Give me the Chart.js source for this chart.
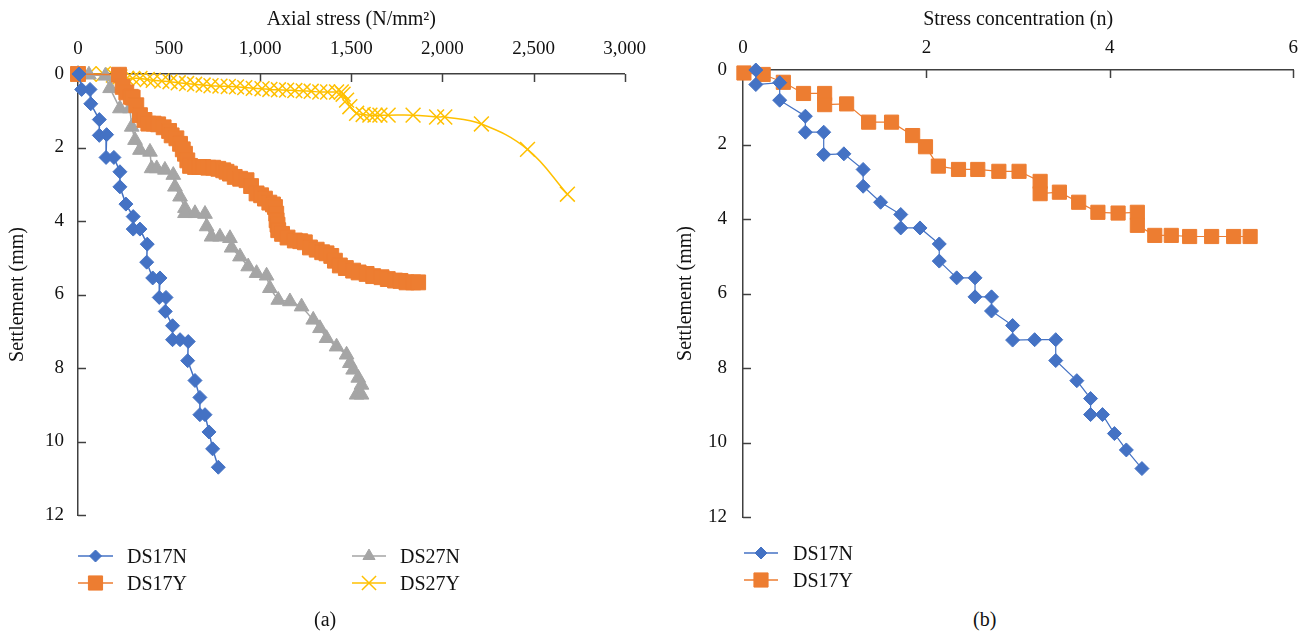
<!DOCTYPE html>
<html>
<head>
<meta charset="utf-8">
<script src="https://cdn.jsdelivr.net/npm/chart.js@4/dist/chart.umd.min.js"></script>
<style>
  html, body { margin: 0; padding: 0; background: #fff; }
  body { width: 1309px; height: 638px; position: relative; overflow: hidden; font-family: 'Liberation Serif', serif; }
  .wrap { position: absolute; top: 0; }
  .cap { position: absolute; top: 608px; font-size: 20px; color: #111; font-family: 'Liberation Serif', serif; }
  .lg { position: absolute; font-size: 20px; line-height: 20px; height: 20px; color: #111; font-family: 'Liberation Serif', serif; white-space: nowrap; }
</style>
</head>
<body>
<div class="wrap" style="left:0;width:660px;height:600px;"><canvas id="c1" width="660" height="600"></canvas></div>
<div class="wrap" style="left:654px;width:655px;height:600px;"><canvas id="c2" width="655" height="600"></canvas></div>
<div id="legendText"></div>
<div class="cap" style="left:314px;">(a)</div>
<div class="cap" style="left:973px;">(b)</div>
<script>
// ---------- Data (a): axial stress vs settlement ----------
const ds17N_stress = [5, 20, 66, 70, 117, 117, 157, 154, 197, 230, 230, 263, 303, 303, 340, 380, 377, 410, 450, 446, 483, 479, 519, 519, 560, 605, 602, 642, 669, 669, 697, 719, 739, 770];
const ds17N_settle = [0, 0.42, 0.42, 0.81, 1.24, 1.67, 1.65, 2.27, 2.27, 2.66, 3.07, 3.54, 3.88, 4.22, 4.22, 4.63, 5.12, 5.55, 5.55, 6.08, 6.08, 6.46, 6.85, 7.23, 7.23, 7.28, 7.80, 8.34, 8.80, 9.27, 9.27, 9.74, 10.20, 10.70];

const ds17Y_stress = [0, 225, 245, 265, 290, 300, 320, 340, 365, 386, 415, 440, 470, 500, 514, 540, 560, 575, 587, 600, 615, 642, 665, 687, 715, 742, 770, 797, 815, 834, 860, 890, 925, 950, 980, 1005, 1026, 1050, 1070, 1081, 1088, 1090, 1095, 1099, 1120, 1150, 1190, 1220, 1245, 1273, 1310, 1340, 1364, 1390, 1410, 1437, 1470, 1510, 1540, 1584, 1620, 1666, 1700, 1740, 1770, 1803, 1840, 1867];
const ds17Y_settle = [0, 0.02, 0.35, 0.5, 0.62, 0.64, 0.85, 1.12, 1.25, 1.35, 1.35, 1.37, 1.45, 1.55, 1.67, 1.75, 1.9, 2.05, 2.17, 2.35, 2.5, 2.53, 2.53, 2.53, 2.55, 2.55, 2.58, 2.62, 2.66, 2.71, 2.8, 2.85, 2.89, 3.05, 3.25, 3.3, 3.39, 3.5, 3.55, 3.62, 3.8, 3.98, 4.1, 4.25, 4.35, 4.45, 4.53, 4.55, 4.58, 4.72, 4.78, 4.85, 4.88, 4.95, 5.08, 5.21, 5.28, 5.35, 5.4, 5.44, 5.5, 5.53, 5.58, 5.62, 5.63, 5.67, 5.67, 5.67];

const ds27N_stress = [0, 60, 150, 176, 230, 285, 295, 313, 340, 395, 404, 432, 477, 523, 532, 560, 587, 587, 642, 697, 706, 733, 779, 834, 843, 889, 934, 980, 1035, 1053, 1099, 1163, 1227, 1291, 1328, 1364, 1419, 1474, 1492, 1510, 1538, 1556, 1529, 1556];
const ds27N_settle = [0, 0.02, 0.05, 0.39, 0.94, 0.94, 1.44, 1.80, 2.07, 2.12, 2.57, 2.57, 2.61, 2.75, 3.07, 3.34, 3.65, 3.79, 3.79, 3.81, 4.15, 4.43, 4.43, 4.47, 4.73, 4.97, 5.24, 5.42, 5.49, 5.83, 6.15, 6.19, 6.33, 6.69, 6.92, 7.19, 7.42, 7.64, 7.87, 8.05, 8.27, 8.46, 8.73, 8.73];

const ds27Y_stress = [0, 60, 139, 194, 230, 267, 300, 340, 380, 413, 460, 505, 550, 596, 640, 687, 730, 779, 825, 870, 915, 962, 1010, 1053, 1100, 1145, 1190, 1236, 1280, 1327, 1370, 1419, 1445, 1455, 1474, 1492, 1529, 1565, 1602, 1630, 1657, 1702, 1839, 1968, 2013, 2214, 2467, 2686];
const ds27Y_settle = [0, 0, 0, 0.03, 0.08, 0.12, 0.12, 0.12, 0.15, 0.17, 0.19, 0.21, 0.24, 0.26, 0.28, 0.30, 0.32, 0.33, 0.34, 0.35, 0.37, 0.39, 0.40, 0.42, 0.43, 0.44, 0.45, 0.46, 0.47, 0.49, 0.49, 0.49, 0.49, 0.55, 0.71, 0.89, 1.07, 1.1, 1.12, 1.12, 1.12, 1.12, 1.12, 1.17, 1.17, 1.36, 2.05, 3.27];

// ---------- Data (b): stress concentration vs settlement ----------
const n17N = [0.14, 0.14, 0.40, 0.40, 0.68, 0.68, 0.88, 0.88, 1.10, 1.31, 1.31, 1.50, 1.72, 1.72, 1.93, 2.14, 2.14, 2.33, 2.53, 2.53, 2.71, 2.71, 2.94, 2.94, 3.18, 3.41, 3.41, 3.64, 3.79, 3.79, 3.92, 4.05, 4.18, 4.35];
const n17N_settle = [0, 0.39, 0.34, 0.81, 1.24, 1.67, 1.67, 2.27, 2.25, 2.67, 3.12, 3.55, 3.88, 4.24, 4.24, 4.67, 5.13, 5.58, 5.58, 6.09, 6.09, 6.47, 6.86, 7.25, 7.24, 7.24, 7.80, 8.34, 8.82, 9.25, 9.25, 9.76, 10.2, 10.7];
const n17Y = [0.01, 0.22, 0.44, 0.66, 0.89, 0.89, 1.13, 1.37, 1.62, 1.85, 1.99, 2.13, 2.35, 2.56, 2.79, 3.01, 3.24, 3.24, 3.45, 3.66, 3.87, 4.09, 4.30, 4.30, 4.49, 4.67, 4.87, 5.11, 5.35, 5.53];
const n17Y_settle = [0.08, 0.12, 0.33, 0.63, 0.63, 0.93, 0.91, 1.40, 1.40, 1.76, 2.06, 2.58, 2.67, 2.67, 2.72, 2.72, 2.99, 3.32, 3.28, 3.55, 3.82, 3.84, 3.82, 4.17, 4.44, 4.44, 4.47, 4.47, 4.47, 4.47];

// ---------- Ticks / labels ----------
const stressTicks = [0, 500, 1000, 1500, 2000, 2500, 3000];
const nTicks = [0, 2, 4, 6];
const settleTicks = [0, 2, 4, 6, 8, 10, 12];

const BLUE = '#4472C4', ORANGE = '#ED7D31', GRAY = '#A5A5A5', YELLOW = '#FFC000';
const AXIS = '#404040';
const FONT = "'Liberation Serif', 'Times New Roman', serif";

const pts = (xs, ys) => xs.map((v, i) => ({x: v, y: ys[i]}));

function ds(label, xs, ys, color, style, r, opts) {
  return Object.assign({
    label, data: pts(xs, ys), showLine: true,
    borderColor: color, backgroundColor: color, borderWidth: 1.5,
    pointStyle: style, pointRadius: r, pointHoverRadius: r,
    pointBackgroundColor: color, pointBorderColor: color, pointBorderWidth: 1,
    tension: 0, clip: false
  }, opts || {});
}

const inwardTicks = {
  id: 'inwardTicks',
  beforeDatasetsDraw(chart) {
    const {ctx, chartArea: {left, top}} = chart;
    const x = chart.scales.x, y = chart.scales.y;
    ctx.save();
    ctx.strokeStyle = AXIS; ctx.lineWidth = 1.5;
    x.ticks.forEach(t => {
      const px = Math.round(x.getPixelForValue(t.value)) + 0.5;
      ctx.beginPath(); ctx.moveTo(px, top); ctx.lineTo(px, top + 8); ctx.stroke();
    });
    y.ticks.forEach(t => {
      const py = Math.round(y.getPixelForValue(t.value)) + 0.5;
      ctx.beginPath(); ctx.moveTo(left, py); ctx.lineTo(left + 8, py); ctx.stroke();
    });
    ctx.restore();
  }
};

// legend symbols drawn on the canvas; legend text as HTML
const customLegend = {
  id: 'customLegend',
  afterDraw(chart, args, o) {
    const ctx = chart.ctx;
    ctx.save();
    o.items.forEach(it => {
      const d = chart.data.datasets[it.index];
      ctx.strokeStyle = d.borderColor; ctx.lineWidth = 1.5;
      ctx.beginPath(); ctx.moveTo(it.x0, it.y); ctx.lineTo(it.x1, it.y); ctx.stroke();
      ctx.fillStyle = d.pointBackgroundColor; ctx.strokeStyle = d.pointBorderColor;
      ctx.lineWidth = d.pointStyle === 'crossRot' ? 1.5 : 1;
      Chart.helpers.drawPoint(ctx, {pointStyle: d.pointStyle, radius: it.r, rotation: 0, borderWidth: ctx.lineWidth}, (it.x0 + it.x1) / 2, it.y);
    });
    ctx.restore();
  }
};

function addLegendText(chart, offsetX, items) {
  const host = document.getElementById('legendText');
  items.forEach(it => {
    const el = document.createElement('div');
    el.className = 'lg';
    el.textContent = chart.data.datasets[it.index].label;
    el.style.left = (offsetX + it.tx) + 'px';
    el.style.top = (it.y - 10) + 'px';
    host.appendChild(el);
  });
}

function makeOptions(cfg) {
  return {
    responsive: false, animation: false,
    layout: {padding: {left: 0, top: 0, right: cfg.padRight, bottom: cfg.padBottom}},
    plugins: {legend: {display: false}, tooltip: {enabled: false}, customLegend: {items: cfg.legend}},
    scales: {
      x: {
        type: 'linear', position: 'top', min: cfg.xmin, max: cfg.xmax,
        afterFit: s => { s.height = cfg.top; },
        afterBuildTicks: s => { s.ticks = cfg.xticks.map(v => ({value: v})); },
        grid: {display: true, drawOnChartArea: false, drawTicks: false},
        border: {display: true, color: AXIS, width: 1.5},
        ticks: {color: '#111', font: {family: FONT, size: 19}, padding: cfg.xtickPad, maxRotation: 0,
                callback: v => v.toLocaleString('en-US')},
        title: {display: true, text: cfg.xtitle, color: '#111', font: {family: FONT, size: 20}, padding: {top: 8, bottom: 0}}
      },
      y: {
        type: 'linear', position: 'left', reverse: true, min: 0, max: 12,
        afterFit: s => { s.width = cfg.left; },
        afterBuildTicks: s => { s.ticks = settleTicks.map(v => ({value: v})); },
        grid: {display: true, drawOnChartArea: false, drawTicks: false},
        border: {display: true, color: AXIS, width: 1.5},
        ticks: {color: '#111', font: {family: FONT, size: 19}, padding: cfg.ytickPad},
        title: {display: true, text: 'Settlement (mm)', color: '#111', font: {family: FONT, size: 20}, padding: {top: cfg.ytitlePad, bottom: 0}}
      }
    }
  };
}

const legendA = [
  {index: 0, x0: 78, x1: 113, y: 556, tx: 127, r: 6},
  {index: 1, x0: 78, x1: 113, y: 583, tx: 127, r: 10},
  {index: 2, x0: 352, x1: 386, y: 556, tx: 400, r: 7},
  {index: 3, x0: 352, x1: 386, y: 583, tx: 400, r: 10}
];
const legendB = [
  {index: 0, x0: 90, x1: 124, y: 553, tx: 139, r: 6},
  {index: 1, x0: 90, x1: 124, y: 580, tx: 139, r: 10}
];

const chartA = new Chart(document.getElementById('c1'), {
  type: 'scatter',
  data: {datasets: [
    ds('DS17N', ds17N_stress, ds17N_settle, BLUE, 'rectRot', 7),
    ds('DS17Y', ds17Y_stress, ds17Y_settle, ORANGE, 'rect', 10.5),
    ds('DS27N', ds27N_stress, ds27N_settle, GRAY, 'triangle', 8.5),
    ds('DS27Y', ds27Y_stress, ds27Y_settle, YELLOW, 'crossRot', 10.5, {pointBorderWidth: 1.5, tension: 0.4})
  ]},
  options: makeOptions({
    xmin: 0, xmax: 3000, xticks: stressTicks, xtitle: 'Axial stress (N/mm\u00B2)',
    top: 74, left: 78, padRight: 35, padBottom: 85, xtickPad: 14, ytickPad: 14, ytitlePad: 6,
    legend: legendA
  }),
  plugins: [inwardTicks, customLegend]
});

const chartB = new Chart(document.getElementById('c2'), {
  type: 'scatter',
  data: {datasets: [
    ds('DS17N', n17N, n17N_settle, BLUE, 'rectRot', 7, {borderWidth: 1.2}),
    ds('DS17Y', n17Y, n17Y_settle, ORANGE, 'rect', 10, {borderWidth: 1.2})
  ]},
  options: makeOptions({
    xmin: 0, xmax: 6, xticks: nTicks, xtitle: 'Stress concentration (n)',
    top: 70, left: 89, padRight: 14, padBottom: 83, xtickPad: 11, ytickPad: 16, ytitlePad: 20,
    legend: legendB
  }),
  plugins: [inwardTicks, customLegend]
});

addLegendText(chartA, 0, legendA);
addLegendText(chartB, 654, legendB);
</script>
</body>
</html>
